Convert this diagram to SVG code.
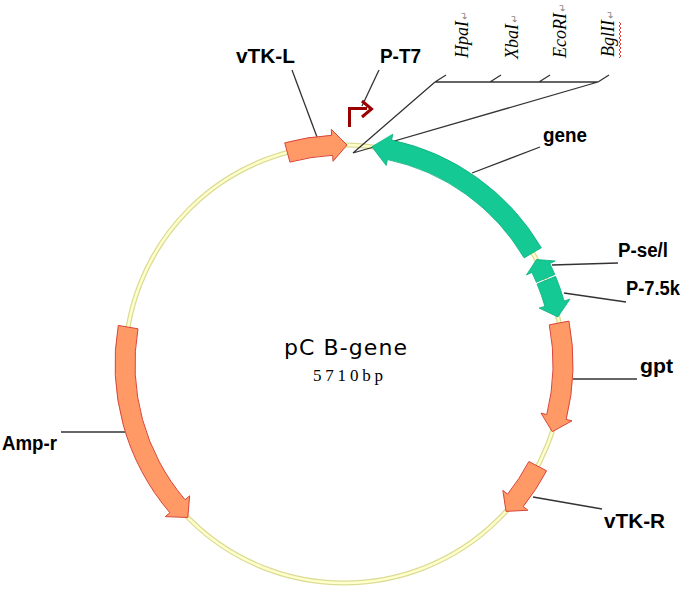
<svg xmlns="http://www.w3.org/2000/svg" width="685" height="592" viewBox="0 0 685 592">
<style>
.lbl{font-family:"Liberation Sans",Arial,sans-serif;font-weight:bold;font-size:20px;fill:#000}
.site{font-family:"Liberation Serif","Times New Roman",serif;font-style:italic;font-size:18px;fill:#000}
.ret{font-family:"DejaVu Sans",sans-serif;font-style:normal;font-size:10px;fill:#888}
.orange{fill:#FF9966;stroke:#D9453A;stroke-width:1}
.green{fill:#14C993;stroke:#0AAE7E;stroke-width:0.8}
.lead{stroke:#333;stroke-width:1.3;fill:none}
</style>
<rect width="685" height="592" fill="#fff"/>
<g id="backbone">
<circle cx="344" cy="364" r="219" fill="none" stroke="#DCDC98" stroke-width="5"/>
<circle cx="344" cy="364" r="219" fill="none" stroke="#FFFFCC" stroke-width="2.4"/>
</g>
<g id="connectors">
<line class="lead" x1="292" y1="70" x2="317" y2="137"/>
<line class="lead" x1="379" y1="70" x2="362" y2="106"/>
<line class="lead" x1="540" y1="147" x2="472" y2="173"/>
<line class="lead" x1="618" y1="263" x2="552" y2="265"/>
<line class="lead" x1="626" y1="302" x2="564" y2="293"/>
<line class="lead" x1="573" y1="379" x2="637" y2="379"/>
<line class="lead" x1="602" y1="509" x2="533" y2="497"/>
<line class="lead" x1="61" y1="432" x2="125" y2="432"/>
<path class="lead" d="M435,82 H598 M435,82 L446,75 M490,82 L501,75 M539,82 L550,75 M598,82 L609,75 M435,82 L353,153 L598,82"/>
</g>
<g id="vTK-L">
<path class="orange" d="M284.73,142.80 A229,229 0 0 1 331.62,135.33 L331.29,129.34 L347.06,145.02 L333.02,161.30 L332.70,155.31 A209,209 0 0 0 289.91,162.12 Z"/>
<text class="lbl" x="236" y="63" textLength="59" lengthAdjust="spacingAndGlyphs">vTK-L</text>
</g>
<g id="P-T7">
<path d="M349.5,127 V108.5 H367 M362,101 L371.5,109 L362,117" fill="none" stroke="#990000" stroke-width="3"/>
<text class="lbl" x="380" y="63" textLength="41" lengthAdjust="spacingAndGlyphs">P-T7</text>
</g>
<g id="sites">
<text class="site" transform="translate(468,58) rotate(-90)">HpaI<tspan class="ret" dx="1">↵</tspan></text>
<text class="site" transform="translate(518,59) rotate(-90)">XbaI<tspan class="ret" dx="1">↵</tspan></text>
<text class="site" transform="translate(566,58) rotate(-90)">EcoRI<tspan class="ret" dx="1">↵</tspan></text>
<text class="site" transform="translate(614,57) rotate(-90)">BglII<tspan class="ret" dx="1">↵</tspan></text>
<path d="M619,58 l2,-2 l-2,-2 l2,-2 l-2,-2 l2,-2 l-2,-2 l2,-2 l-2,-2 l2,-2 l-2,-2 l2,-2 l-2,-2 l2,-2 l-2,-2 l2,-2 l-2,-2 l2,-2 l-2,-2" fill="none" stroke="#E02020" stroke-width="0.9"/>
</g>
<g id="gene">
<path class="green" d="M541.31,247.77 A229,229 0 0 0 391.61,140.00 L392.86,134.14 L371.83,146.78 L386.21,165.44 L387.45,159.57 A209,209 0 0 1 524.08,257.92 Z"/>
<text class="lbl" x="543" y="142" textLength="44" lengthAdjust="spacingAndGlyphs">gene</text>
</g>
<g id="P-se-l">
<path class="green" d="M554.80,274.52 A229,229 0 0 0 549.82,263.61 L555.22,260.98 L536.46,259.50 L526.46,275.01 L531.85,272.38 A209,209 0 0 1 536.39,282.34 Z"/>
<text class="lbl" x="618" y="257" textLength="50" lengthAdjust="spacingAndGlyphs">P-se/l</text>
</g>
<g id="P-7.5k">
<path class="green" d="M555.57,276.37 A229,229 0 0 1 564.13,300.88 L569.90,299.23 L557.89,316.97 L539.14,308.05 L544.90,306.39 A209,209 0 0 0 537.09,284.02 Z"/>
<text class="lbl" x="626" y="295" textLength="54" lengthAdjust="spacingAndGlyphs">P-7.5k</text>
</g>
<g id="gpt">
<path class="orange" d="M568.94,321.09 A229,229 0 0 1 566.20,419.40 L572.02,420.85 L552.28,431.67 L540.97,413.11 L546.79,414.56 A209,209 0 0 0 549.30,324.84 Z"/>
<text class="lbl" x="640" y="373" textLength="33" lengthAdjust="spacingAndGlyphs">gpt</text>
</g>
<g id="vTK-R">
<path class="orange" d="M546.57,470.80 A229,229 0 0 1 523.22,506.56 L527.91,510.29 L505.98,511.39 L502.87,490.37 L507.57,494.11 A209,209 0 0 0 528.88,461.47 Z"/>
<text class="lbl" x="604" y="528" textLength="61" lengthAdjust="spacingAndGlyphs">vTK-R</text>
</g>
<g id="Amp-r">
<path class="orange" d="M118.27,325.42 A229,229 0 0 0 169.87,512.72 L165.30,516.62 L187.80,517.50 L189.64,495.84 L185.08,499.73 A209,209 0 0 1 137.99,328.79 Z"/>
<text class="lbl" x="2" y="450" textLength="55" lengthAdjust="spacingAndGlyphs">Amp-r</text>
</g>
<g id="title">
<text x="284" y="355" font-family="DejaVu Sans,sans-serif" font-size="22" fill="#000" textLength="123" lengthAdjust="spacing">pC B-gene</text>
<text x="313" y="381" font-family="Liberation Serif,serif" font-size="17" fill="#000" textLength="70" lengthAdjust="spacing" style="font-variant-numeric:oldstyle-nums">5710bp</text>
</g>
</svg>
